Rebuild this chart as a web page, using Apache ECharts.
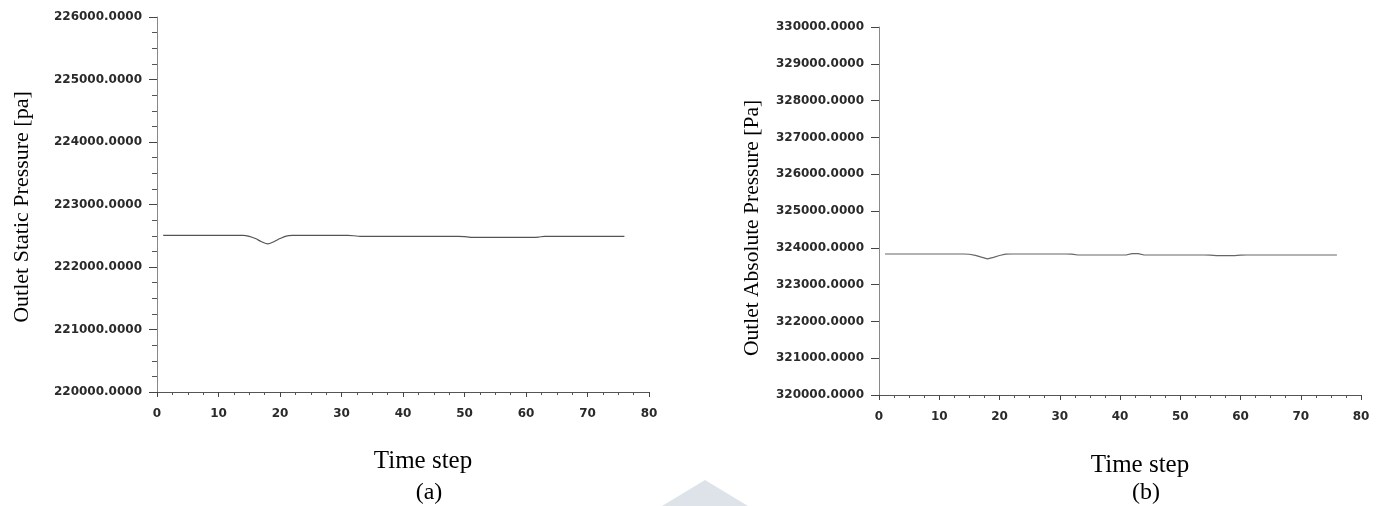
<!DOCTYPE html>
<html><head><meta charset="utf-8">
<script src="https://cdn.jsdelivr.net/npm/echarts@6/dist/echarts.min.js"></script>
<style>html,body{margin:0;padding:0;background:#fff}#c{width:1384px;height:506px}</style>
</head><body><div id="c"></div>
<script>
// Time steps
const timeSteps = [];
for (let t = 1; t <= 76; t++) timeSteps.push(t);
// (a) Outlet static pressure [pa], one value per time step 1..76
const staticPressure = [
  222505,222505,222505,222505,222505,222505,222505,222505,222505,222505,
  222505,222505,222505,222505,222490,222455,222405,222370,222405,222455,
  222495,222505,222505,222505,222505,222505,222505,222505,222505,222505,
  222505,222500,222490,222490,222490,222490,222490,222490,222490,222490,
  222490,222490,222490,222490,222490,222490,222490,222490,222490,222485,
  222475,222475,222475,222475,222475,222475,222475,222475,222475,222475,
  222475,222478,222490,222490,222490,222490,222490,222490,222490,222490,
  222490,222490,222490,222490,222490,222490
];
// (b) Outlet absolute pressure [Pa]
const absolutePressure = [
  323832,323832,323832,323832,323832,323832,323832,323832,323832,323832,
  323832,323832,323832,323832,323825,323795,323745,323700,323740,323790,
  323830,323832,323832,323832,323832,323832,323832,323832,323832,323832,
  323832,323830,323805,323805,323805,323805,323805,323805,323805,323805,
  323805,323840,323840,323805,323805,323805,323805,323805,323805,323805,
  323805,323805,323805,323805,323800,323786,323786,323786,323786,323800,
  323805,323805,323805,323805,323805,323805,323805,323805,323805,323805,
  323805,323805,323805,323805,323805,323805
];
const xTicks = [0, 80, 10];            // min, max, interval
const yTicksA = [220000, 226000, 1000];
const yTicksB = [320000, 330000, 1000];

const pairsA = timeSteps.map((t, i) => [t, staticPressure[i]]);
const pairsB = timeSteps.map((t, i) => [t, absolutePressure[i]]);

const labelFont = {fontFamily: 'DejaVu Sans', fontSize: 12, fontWeight: 'bold', color: '#2a2a2a'};
function xAxis(gi) {
  return {
    type: 'value', gridIndex: gi, min: xTicks[0], max: xTicks[1], interval: xTicks[2],
    axisLine: {show: true, lineStyle: {color: '#555', width: 1}},
    axisTick: {show: true, length: 5, lineStyle: {color: '#444'}},
    minorTick: {show: true, splitNumber: 4, length: 3, lineStyle: {color: '#555'}},
    splitLine: {show: false},
    axisLabel: Object.assign({margin: 16}, labelFont)
  };
}
function yAxis(gi, ticks, minor) {
  return {
    type: 'value', gridIndex: gi, min: ticks[0], max: ticks[1], interval: ticks[2],
    axisLine: {show: true, lineStyle: {color: '#888', width: 1}},
    axisTick: {show: true, length: 8, lineStyle: {color: '#444'}},
    minorTick: {show: minor, splitNumber: 4, length: 5, lineStyle: {color: '#555'}},
    splitLine: {show: false},
    axisLabel: Object.assign({margin: 15, formatter: v => v.toFixed(4)}, labelFont)
  };
}
const serif = 'Liberation Serif';
const chart = echarts.init(document.getElementById('c'), null, {renderer: 'canvas'});
chart.setOption({
  animation: false,
  backgroundColor: '#fff',
  grid: [
    {left: 157, top: 17, width: 492, height: 375},
    {left: 879, top: 27, width: 482, height: 368}
  ],
  xAxis: [xAxis(0), xAxis(1)],
  yAxis: [yAxis(0, yTicksA, true), yAxis(1, yTicksB, false)],
  series: [
    {type: 'line', xAxisIndex: 0, yAxisIndex: 0, data: pairsA, showSymbol: false, smooth: 0.3,
     lineStyle: {color: '#555', width: 1.2}},
    {type: 'line', xAxisIndex: 1, yAxisIndex: 1, data: pairsB, showSymbol: false,
     lineStyle: {color: '#666', width: 1.2}}
  ],
  graphic: [
    {type: 'polygon', shape: {points: [[705, 480], [662, 506], [748, 506]]}, style: {fill: '#dde3e8'}, z: -1},
    {type: 'text', x: 22, y: 207, rotation: Math.PI / 2,
     style: {text: 'Outlet Static Pressure [pa]', font: '22px "' + serif + '"', fill: '#000', align: 'center', verticalAlign: 'middle'}},
    {type: 'text', x: 752, y: 228, rotation: Math.PI / 2,
     style: {text: 'Outlet Absolute Pressure [Pa]', font: '21.5px "' + serif + '"', fill: '#000', align: 'center', verticalAlign: 'middle'}},
    {type: 'text', x: 423, y: 461,
     style: {text: 'Time step', font: '25px "' + serif + '"', fill: '#000', align: 'center', verticalAlign: 'middle'}},
    {type: 'text', x: 1140, y: 465,
     style: {text: 'Time step', font: '25px "' + serif + '"', fill: '#000', align: 'center', verticalAlign: 'middle'}},
    {type: 'text', x: 429, y: 493,
     style: {text: '(a)', font: '24px "' + serif + '"', fill: '#000', align: 'center', verticalAlign: 'middle'}},
    {type: 'text', x: 1146, y: 493,
     style: {text: '(b)', font: '24px "' + serif + '"', fill: '#000', align: 'center', verticalAlign: 'middle'}}
  ]
});
</script></body></html>
